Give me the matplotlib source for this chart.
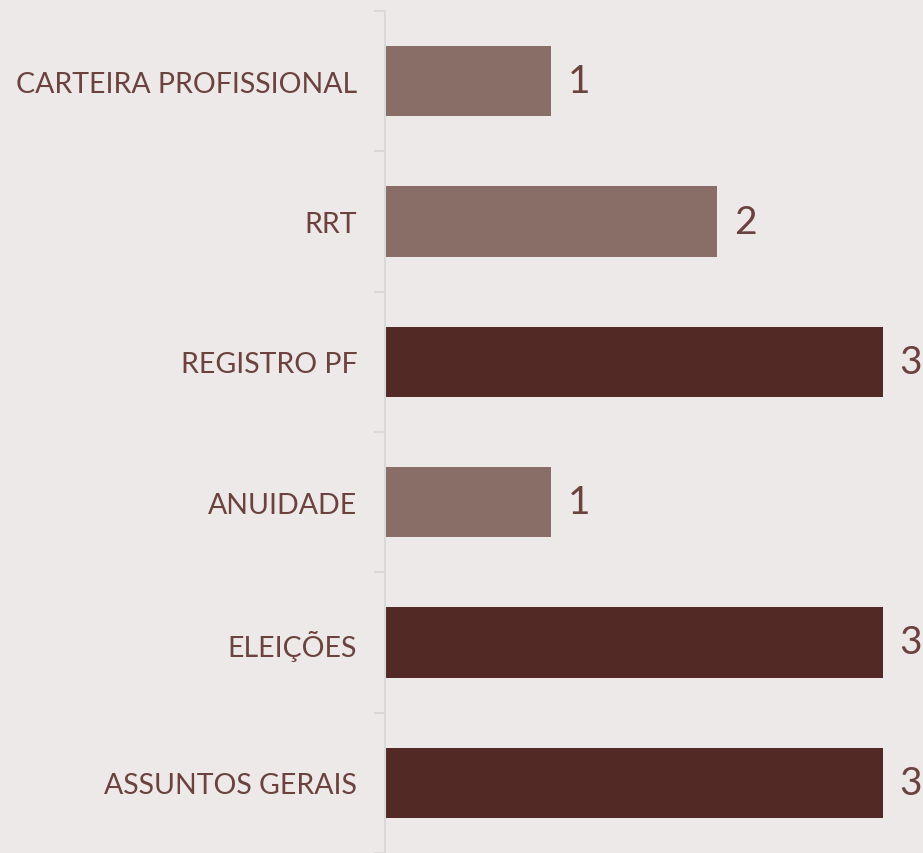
import numpy as np
import matplotlib.pyplot as plt

# data (top to bottom)
categories = ["CARTEIRA PROFISSIONAL", "RRT", "REGISTRO PF", "ANUIDADE", "ELEIÇÕES", "ASSUNTOS GERAIS"]
values = [1, 2, 3, 1, 3, 3]

bg = "#EDE9E8"
light = "#896D67"
dark = "#532925"
text_color = "#6B423D"

fig = plt.figure(figsize=(9.23, 8.54), dpi=100, facecolor=bg)
ax = fig.add_axes([385 / 923, 0, 538 / 923, 842 / 854])
ax.set_facecolor(bg)

y = np.arange(len(categories))
colors = [dark if v == max(values) else light for v in values]
bars = ax.barh(y, values, height=0.5, color=colors)

for yi, v in zip(y, values):
    ax.text(v + 0.1, yi, str(v), va="center", ha="left",
            fontsize=28, color=text_color, family="Lato")

ax.set_xlim(0, 3.24)
ax.set_ylim(len(categories) - 0.5, -0.5)
ax.set_yticks(y)
ax.set_yticklabels(categories, fontsize=20.5, color=text_color, family="Lato")
ax.set_yticks(np.arange(len(categories) + 1) - 0.5, minor=True)
ax.tick_params(axis="y", which="major", length=0, pad=20)
ax.tick_params(axis="y", which="minor", length=8, width=1.5, color="#D9D9D9", direction="out")
ax.set_xticks([])

for s in ["top", "right", "bottom"]:
    ax.spines[s].set_visible(False)
ax.spines["left"].set_color("#D9D9D9")
ax.spines["left"].set_linewidth(1.5)

plt.savefig("out.png", dpi=100, facecolor=bg)
